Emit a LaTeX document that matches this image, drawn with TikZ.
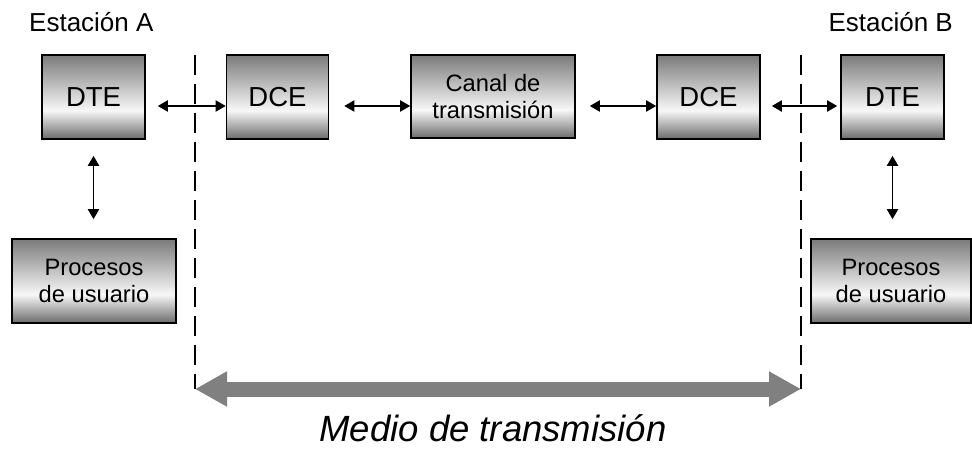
\documentclass[tikz,border=0pt]{standalone}
\usepackage{fontspec}
\setmainfont{Liberation Sans}
\usetikzlibrary{arrows.meta}
\pgfdeclareverticalshading{boxshade}{100bp}{color(0bp)=(black!58); color(25bp)=(black!58); color(42bp)=(black!3); color(75bp)=(black!52); color(100bp)=(black!52)}
\tikzset{
  box/.style={draw=black, line width=1.6pt, shading=boxshade, inner sep=0pt, align=center},
  bigtxt/.style={font=\fontsize{27.5}{31}\selectfont},
  smalltxt/.style={font=\fontsize{23.7}{27}\selectfont},
  arr/.style={line width=1.9pt, {Triangle[length=10pt,width=11pt]}-{Triangle[length=10pt,width=11pt]}},
  divider/.style={line width=2.8pt, dash pattern=on 20pt off 9pt},
  medium/.style={line width=15pt, draw={rgb,255:red,128;green,128;blue,128}, {Triangle[length=32pt,width=33pt]}-{Triangle[length=32pt,width=33pt]}},
  label/.style={font=\fontsize{26}{29}\selectfont, inner sep=0pt}
}
\begin{document}
\begin{tikzpicture}[x=1pt,y=-1pt]
\useasboundingbox (0,0) rectangle (972,449);
% boxes
\node[box,bigtxt,minimum width=103pt,minimum height=84pt] (dteA) at (93.5,97) {DTE};
\node[box,bigtxt,minimum width=102pt,minimum height=84pt] (dce1) at (277.5,97) {DCE};
\node[box,smalltxt,minimum width=164pt,minimum height=83pt] (canal) at (493,96.5) {Canal de\\transmisión};
\node[box,bigtxt,minimum width=103pt,minimum height=84pt] (dce2) at (708.5,97) {DCE};
\node[box,bigtxt,minimum width=103pt,minimum height=84pt] (dteB) at (892.5,97) {DTE};
\node[box,smalltxt,minimum width=164pt,minimum height=84pt] (procA) at (94,281) {Procesos\\de usuario};
\node[box,smalltxt,minimum width=160pt,minimum height=84pt] (procB) at (891,281) {Procesos\\de usuario};
% station labels
\node[label,anchor=base west] (estA) at (29,32) {Estación A};
\node[label,anchor=base east] (estB) at (953,32) {Estación B};
% horizontal connectors
\coordinate (ay) at (0,106);
\draw[arr,shorten <=12pt] (dteA.east |- ay) -- (dce1.west |- ay);
\draw[arr,shorten <=15pt] (dce1.east |- ay) -- (canal.west |- ay);
\draw[arr,shorten <=14pt] (canal.east |- ay) -- (dce2.west |- ay);
\draw[arr,shorten <=11pt,shorten >=3pt] (dce2.east |- ay) -- (dteB.west |- ay);
% vertical connectors
\draw[arr,shorten <=16pt,shorten >=19pt] (dteA.south) -- (dteA.south |- procA.north);
\draw[arr,shorten <=16pt,shorten >=19pt] (dteB.south) -- (dteB.south |- procB.north);
% dividers
\coordinate (dLt) at (195,55);
\coordinate (dLb) at (195,389);
\coordinate (dRt) at (801,55);
\coordinate (dRb) at (801,389);
\draw[divider] (dLt) -- (dLb);
\draw[divider] (dRt) -- (dRb);
% transmission medium arrow
\draw[medium] (dLb) -- (dRb);
\node[font=\fontsize{36.5}{40}\selectfont\itshape, anchor=base, inner sep=0pt] (medio) at (493,441) {Medio de transmisión};
\end{tikzpicture}
\end{document}
